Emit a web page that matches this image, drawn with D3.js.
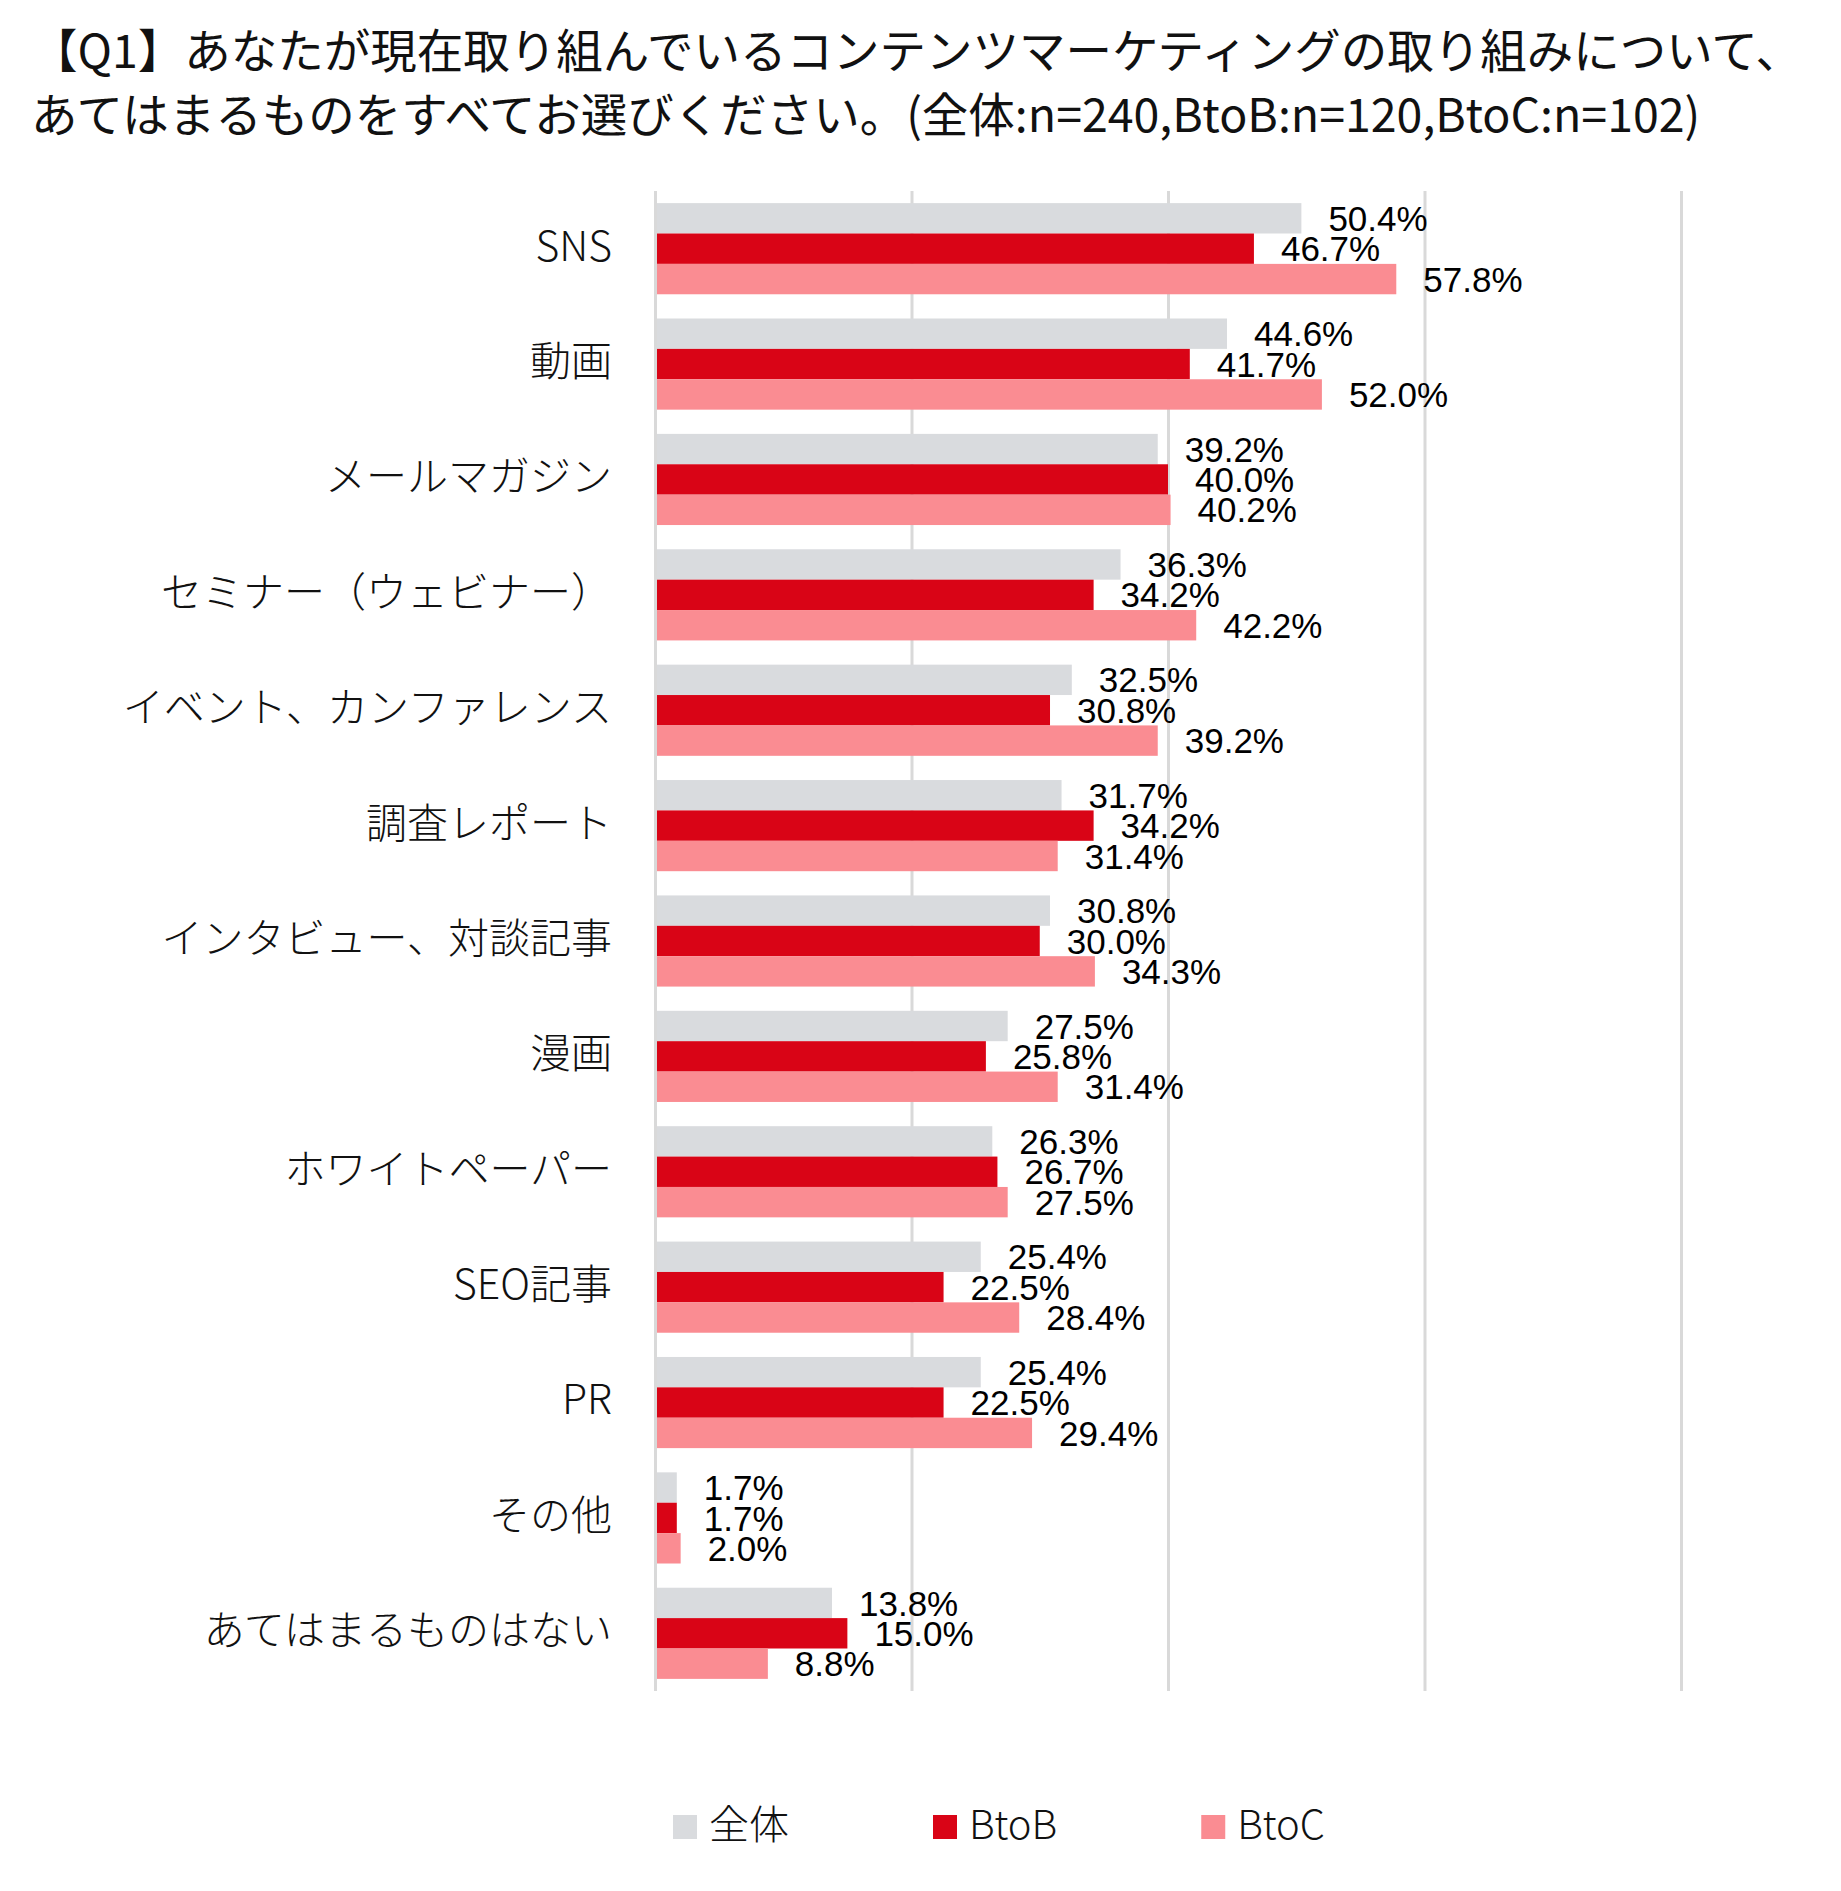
<!DOCTYPE html>
<html>
<head>
<meta charset="utf-8">
<script src="https://cdn.jsdelivr.net/npm/d3@7"></script>
<style>
  html, body { margin: 0; padding: 0; background: #ffffff; }
  svg { display: block; }
</style>
</head>
<body>
<svg id="chart" width="1841" height="1891"></svg>
<script>
const titleLines = [
  "【Q1】あなたが現在取り組んでいるコンテンツマーケティングの取り組みについて、",
  "あてはまるものをすべてお選びください。(全体:n=240,BtoB:n=120,BtoC:n=102)"
];
const categories = [
  "SNS", "動画", "メールマガジン", "セミナー（ウェビナー）", "イベント、カンファレンス",
  "調査レポート", "インタビュー、対談記事", "漫画", "ホワイトペーパー", "SEO記事",
  "PR", "その他", "あてはまるものはない"
];
const seriesNames = ["全体", "BtoB", "BtoC"];
const totalValues = [50.4, 44.6, 39.2, 36.3, 32.5, 31.7, 30.8, 27.5, 26.3, 25.4, 25.4, 1.7, 13.8];
const btobValues  = [46.7, 41.7, 40.0, 34.2, 30.8, 34.2, 30.0, 25.8, 26.7, 22.5, 22.5, 1.7, 15.0];
const btocValues  = [57.8, 52.0, 40.2, 42.2, 39.2, 31.4, 34.3, 31.4, 27.5, 28.4, 29.4, 2.0, 8.8];
const tickValues = [0, 20, 40, 60, 80];
const seriesColors = ["#D9DBDE", "#D90416", "#FA8C92"];

const seriesValues = [totalValues, btobValues, btocValues];
const rows = [];
categories.forEach((c, i) => {
  seriesNames.forEach((s, j) => rows.push({cat: c, series: s, value: seriesValues[j][i], si: j}));
});

const svg = d3.select("#chart");
svg.append("rect").attr("width", 1841).attr("height", 1891).attr("fill", "#ffffff");

const jpFont = "'Noto Sans CJK JP', 'Noto Sans', sans-serif";
const numFont = "'Liberation Sans', Arial, sans-serif";

// Title
svg.append("g").selectAll("text").data(titleLines).join("text")
  .attr("x", 31)
  .attr("y", (d, i) => 68 + i * 64)
  .attr("font-family", jpFont)
  .attr("font-size", 46.5)
  .attr("fill", "#111")
  .text(d => d);

const plotTop = 191, plotBottom = 1691;
const x = d3.scaleLinear().domain([0, 80]).range([655, 1681]);
const y = d3.scaleBand().domain(categories).range([plotTop, plotBottom])
  .paddingInner(0.21).paddingOuter(0.105);
const ys = d3.scaleBand().domain(seriesNames).range([0, y.bandwidth()]);
const color = d3.scaleOrdinal().domain(seriesNames).range(seriesColors);

// Gridlines
const grid = svg.append("g")
  .attr("transform", `translate(0,${plotBottom})`)
  .call(d3.axisBottom(x).tickValues(tickValues).tickSize(-(plotBottom - plotTop)).tickFormat(""));
grid.select(".domain").remove();
grid.selectAll(".tick line").attr("stroke", "#D9D9D9").attr("stroke-width", 3);

// Bars
svg.append("g").selectAll("rect").data(rows).join("rect")
  .attr("x", x(0))
  .attr("y", d => y(d.cat) + ys(d.series))
  .attr("width", d => x(d.value) - x(0))
  .attr("height", ys.bandwidth())
  .attr("fill", d => color(d.series));

// Zero axis line on top
const zeroAxis = svg.append("g")
  .attr("transform", `translate(0,${plotBottom})`)
  .call(d3.axisBottom(x).tickValues([0]).tickSize(-(plotBottom - plotTop)).tickFormat(""));
zeroAxis.select(".domain").remove();
zeroAxis.selectAll(".tick line").attr("stroke", "#D9D9D9").attr("stroke-width", 3);

// Value labels
svg.append("g").selectAll("text").data(rows).join("text")
  .attr("x", d => x(d.value) + 27)
  .attr("y", d => y(d.cat) + ys(d.series) + ys.bandwidth() / 2)
  .attr("dy", "0.36em")
  .attr("font-family", numFont)
  .attr("font-size", 35)
  .attr("fill", "#000")
  .text(d => d3.format(".1f")(d.value) + "%");

// Category axis
const yAxis = svg.append("g")
  .attr("transform", `translate(${x(0)},0)`)
  .call(d3.axisLeft(y).tickSize(0).tickPadding(43));
yAxis.select(".domain").remove();
yAxis.selectAll(".tick text")
  .attr("font-family", jpFont)
  .attr("font-size", 41)
  .attr("font-weight", 300)
  .attr("fill", "#111")
  .attr("dy", "0.29em");

// Legend
const legend = svg.append("g");
let lx = 673;
const legendY = 1827;
seriesNames.forEach((s, i) => {
  legend.append("rect").attr("x", lx).attr("y", legendY - 12).attr("width", 24).attr("height", 24)
    .attr("fill", color(s));
  const t = legend.append("text").attr("x", lx + 36).attr("y", legendY)
    .attr("dy", "0.29em")
    .attr("font-family", jpFont).attr("font-size", 40).attr("font-weight", 300)
    .attr("fill", "#111").text(s);
  lx += 36 + t.node().getComputedTextLength() + 144;
});
</script>
</body>
</html>
